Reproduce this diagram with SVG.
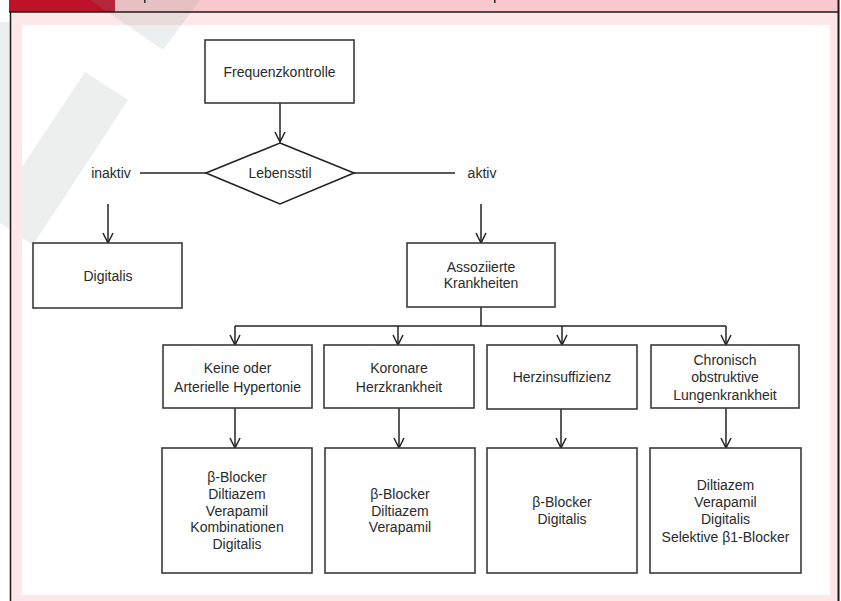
<svg xmlns="http://www.w3.org/2000/svg" width="841" height="601" viewBox="0 0 841 601">
<style>
 .box{fill:#fff;stroke:#3a3a3a;stroke-width:1.6}
 .dia{fill:#fff;stroke:#222;stroke-width:1.6}
 .t{font-family:"Liberation Sans",Arial,sans-serif;font-size:14px;fill:#2a2a2a;text-anchor:middle}
 .c{fill:none;stroke:#222;stroke-width:1.5}
 .a{marker-end:url(#ah)}
 .wm{fill:#edefef}
 .frame{stroke:#1a1a1a;fill:none}
</style>
<defs>
 <marker id="ah" markerUnits="userSpaceOnUse" viewBox="0 0 12 12" markerWidth="12" markerHeight="12" refX="11" refY="6" orient="auto">
  <path d="M1,1 L11,6 L1,11" fill="none" stroke="#222" stroke-width="1.5"/>
 </marker>
</defs>
<g id="background">
 <rect x="0" y="0" width="841" height="601" fill="#fff"/>
 <rect class="wm" x="0" y="22" width="10" height="180"/>
 <polygon class="wm" points="85,72 128,100 33,245 0,223 0,200"/>
 <path d="M10,12 H838 V601 H10 Z M22,25 V595 H830 V25 Z" fill="#fde7e8" fill-rule="evenodd"/>
 <rect x="9" y="0" width="830" height="12" fill="#f9c8cc"/>
 <rect x="9" y="0" width="106" height="12" fill="#be1229"/>
 <polygon points="90,0 200,0 163,50" fill="#8a9a9a" opacity="0.16"/>
 <rect x="144" y="0" width="1.6" height="3" fill="#333"/>
 <rect x="494" y="0" width="1.6" height="3" fill="#333"/>
 <line class="frame" x1="9" y1="12" x2="839" y2="12" stroke-width="1.5"/>
 <line class="frame" x1="10.5" y1="12" x2="10.5" y2="601" stroke-width="1.5"/>
 <line class="frame" x1="838.5" y1="0" x2="838.5" y2="601" stroke-width="2"/>
</g>
<g id="connectors">
 <line class="c a" x1="280" y1="103" x2="280" y2="142"/>
 <line class="c" x1="206" y1="173" x2="140" y2="173"/>
 <line class="c" x1="354" y1="173" x2="455" y2="173"/>
 <line class="c a" x1="108" y1="204" x2="108" y2="243"/>
 <line class="c a" x1="481" y1="204" x2="481" y2="243"/>
 <line class="c" x1="481" y1="307" x2="481" y2="326"/>
 <line class="c" x1="235" y1="326" x2="726" y2="326"/>
 <line class="c a" x1="235" y1="326" x2="235" y2="345"/>
 <line class="c a" x1="398" y1="326" x2="398" y2="345"/>
 <line class="c a" x1="562" y1="326" x2="562" y2="345"/>
 <line class="c a" x1="726" y1="326" x2="726" y2="345"/>
 <line class="c a" x1="235" y1="408" x2="235" y2="448"/>
 <line class="c a" x1="399" y1="408" x2="399" y2="448"/>
 <line class="c a" x1="561" y1="409" x2="561" y2="448"/>
 <line class="c a" x1="726" y1="408" x2="726" y2="448"/>
</g>
<g id="n-frequenz">
 <rect class="box" x="205" y="40" width="149" height="63"/>
 <text class="t" x="279.5" y="77">Frequenzkontrolle</text>
</g>
<g id="n-lebensstil">
 <polygon class="dia" points="280,143 354,173 280,204 206,173"/>
 <text class="t" x="280" y="178">Lebensstil</text>
</g>
<g id="l-inaktiv"><text class="t" x="111" y="178">inaktiv</text></g>
<g id="l-aktiv"><text class="t" x="482" y="178">aktiv</text></g>
<g id="n-digitalis">
 <rect class="box" x="33" y="243" width="149" height="65"/>
 <text class="t" x="108" y="281">Digitalis</text>
</g>
<g id="n-assoziierte">
 <rect class="box" x="407" y="243" width="148" height="64"/>
 <text class="t" x="481" y="272">Assoziierte</text>
 <text class="t" x="481" y="288">Krankheiten</text>
</g>
<g id="n-keine">
 <rect class="box" x="163" y="345" width="149" height="63"/>
 <text class="t" x="237.5" y="373">Keine oder</text>
 <text class="t" x="237.5" y="392">Arterielle Hypertonie</text>
</g>
<g id="n-koronare">
 <rect class="box" x="324" y="345" width="150" height="63"/>
 <text class="t" x="399" y="373">Koronare</text>
 <text class="t" x="399" y="392">Herzkrankheit</text>
</g>
<g id="n-herzinsuff">
 <rect class="box" x="487" y="345" width="150" height="64"/>
 <text class="t" x="562" y="382">Herzinsuffizienz</text>
</g>
<g id="n-copd">
 <rect class="box" x="651" y="345" width="148" height="63"/>
 <text class="t" x="725" y="365">Chronisch</text>
 <text class="t" x="725" y="382">obstruktive</text>
 <text class="t" x="725" y="400">Lungenkrankheit</text>
</g>
<g id="n-t1">
 <rect class="box" x="162" y="448" width="150" height="125"/>
 <text class="t" x="237" y="482">β-Blocker</text>
 <text class="t" x="237" y="499">Diltiazem</text>
 <text class="t" x="237" y="516">Verapamil</text>
 <text class="t" x="237" y="532">Kombinationen</text>
 <text class="t" x="237" y="549">Digitalis</text>
</g>
<g id="n-t2">
 <rect class="box" x="325" y="448" width="150" height="125"/>
 <text class="t" x="400" y="499">β-Blocker</text>
 <text class="t" x="400" y="516">Diltiazem</text>
 <text class="t" x="400" y="532">Verapamil</text>
</g>
<g id="n-t3">
 <rect class="box" x="487" y="448" width="150" height="125"/>
 <text class="t" x="562" y="507">β-Blocker</text>
 <text class="t" x="562" y="524">Digitalis</text>
</g>
<g id="n-t4">
 <rect class="box" x="650" y="448" width="151" height="125"/>
 <text class="t" x="725.5" y="490">Diltiazem</text>
 <text class="t" x="725.5" y="507">Verapamil</text>
 <text class="t" x="725.5" y="524">Digitalis</text>
 <text class="t" x="725.5" y="542">Selektive β1-Blocker</text>
</g>
</svg>
